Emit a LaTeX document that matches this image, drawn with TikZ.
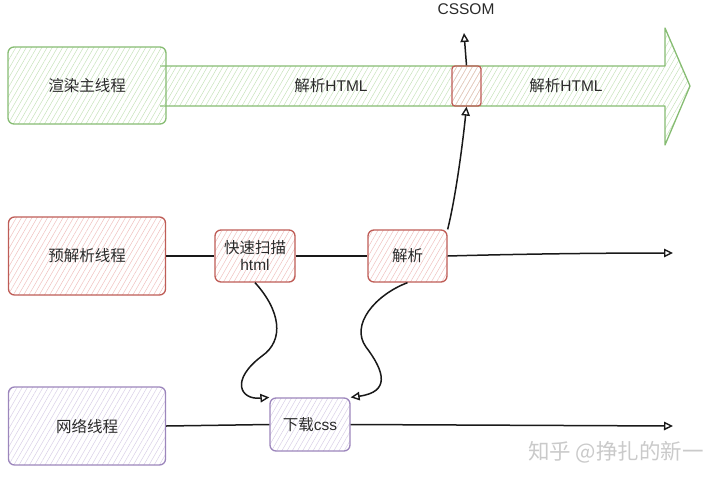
\documentclass[tikz,border=0pt]{standalone}
\usepackage{fontspec}
\setmainfont{Noto Sans CJK SC}
\newfontfamily\lat{Liberation Sans}
\usetikzlibrary{patterns.meta,arrows.meta}
\definecolor{gstroke}{HTML}{86BC72}
\definecolor{gfill}{HTML}{C6E2BA}
\definecolor{rstroke}{HTML}{BE5C56}
\definecolor{rfill}{HTML}{EFC0BE}
\definecolor{pstroke}{HTML}{9C86BC}
\definecolor{pfill}{HTML}{D8CEE6}
\definecolor{wm}{HTML}{CACACA}
\definecolor{txt}{HTML}{2A2A2A}
\tikzset{
  hatch/.style={pattern={Lines[angle=60,distance=4.5pt,line width=0.5pt]}},
  box/.style={draw, rounded corners=6pt, line width=1.3pt, hatch, inner sep=1pt,
    font=\fontsize{15.5}{17}\selectfont, align=center, text=txt},
  gbox/.style={box, draw=gstroke, pattern color=gfill},
  rbox/.style={box, draw=rstroke, pattern color=rfill},
  pbox/.style={box, draw=pstroke, pattern color=pfill},
  lbl/.style={font=\fontsize{15.5}{17}\selectfont, text=txt},
  conn/.style={line width=1.5pt, black!90},
  arr/.style={conn, -{Triangle[open,length=9pt,width=8.5pt,line width=1.4pt]}},
}
\begin{document}
\begin{tikzpicture}[x=1pt,y=-1pt]
\useasboundingbox (0,0) rectangle (720,480);
% big arrow
\draw[line width=1.3pt, draw=gstroke, pattern color=gfill, hatch, line join=round]
  (160,66) -- (665,66) -- (665,28) -- (690,86) -- (665,145) -- (665,106) -- (160,106);
\node[gbox, minimum width=158pt, minimum height=77pt] (m) at (87,85.5) {渲染主线程};
\node[lbl] (t1) at (331,86) {解析{\lat HTML}};
\node[lbl] (t2) at (566,86) {解析{\lat HTML}};
\node[rbox, minimum width=29pt, minimum height=40pt, rounded corners=3pt] (rb) at (466.5,86) {};
\node[lbl] (cssom) at (466,9) {\lat\fontsize{15.5}{17}\selectfont CSSOM};
\coordinate (up) at (464,33);
\draw[arr] (rb.north) -- (up);

% pre-parse row
\node[rbox, minimum width=157pt, minimum height=78pt] (p) at (87,256) {预解析线程};
\node[rbox, minimum width=80pt, minimum height=52pt] (q) at (255,256) {快速扫描\\{\lat html}};
\node[rbox, minimum width=79pt, minimum height=52pt] (j) at (407.5,256) {解析};
\coordinate (e1) at (673,253);
\draw[conn] (p.east) -- (q.west);
\draw[conn] (q.east) -- (j.west);
\draw[arr] (j.east) .. controls (520,254) and (600,253) .. (e1);

% network row
\node[pbox, minimum width=157pt, minimum height=78pt] (n) at (87,426) {网络线程};
\node[pbox, minimum width=80pt, minimum height=53pt] (d) at (310,424.5) {下载{\lat css}};
\coordinate (e2) at (673,426);
\draw[conn] (n.east) -- (d.west);
\draw[arr] (d.east) -- (e2);

% curves
\draw[arr] (j.north east) .. controls (455,200) and (462,150) .. (rb.south);
\draw[arr] (q.south) .. controls (280,310) and (285,340) .. (262,356)
  .. controls (230,380) and (240,400) .. (d.north west);
\draw[arr] (j.south) .. controls (375,295) and (350,325) .. (366,347)
  .. controls (385,372) and (390,392) .. (d.north east);

\node[font=\fontsize{21.5}{23}\selectfont, text=wm] (w) at (616,452) {知乎 @挣扎的新一};
\end{tikzpicture}
\end{document}
